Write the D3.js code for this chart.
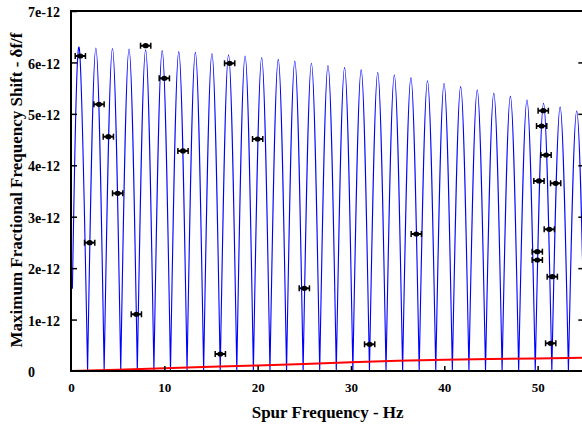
<!DOCTYPE html>
<html>
<head>
<meta charset="utf-8">
<script src="https://cdn.jsdelivr.net/npm/d3@7"></script>
<style>
  body { margin: 0; background: #fff; }
  svg { display: block; font-family: "Liberation Serif", "Times New Roman", serif; font-weight: bold; }
</style>
</head>
<body>
<svg id="chart" width="582" height="425"></svg>
<script>
// zeros of the model curve (Hz)
var lobeZeros = [0, 1.777, 3.553, 5.330, 7.106, 8.883, 10.660, 12.436, 14.213, 15.989,
                 17.766, 19.543, 21.319, 23.096, 24.872, 26.649, 28.426, 30.202, 31.979, 33.755,
                 35.532, 37.309, 39.085, 40.862, 42.638, 44.415, 46.192, 47.968, 49.745, 51.521,
                 53.298, 55.075];
// lobe tops of the model curve
var peakFreqs = [0.888, 2.665, 4.442, 6.218, 7.995, 9.771, 11.548, 13.325, 15.101, 16.878,
                 18.654, 20.431, 22.208, 23.984, 25.761, 27.537, 29.314, 31.091, 32.867, 34.644,
                 36.420, 38.197, 39.974, 41.750, 43.527, 45.303, 47.080, 48.857, 50.633, 52.410,
                 54.186];
var peakShifts = [6.28e-12, 6.28e-12, 6.27e-12, 6.26e-12, 6.245e-12, 6.23e-12, 6.21e-12, 6.195e-12,
                  6.175e-12, 6.15e-12, 6.125e-12, 6.095e-12, 6.06e-12, 6.025e-12, 5.985e-12, 5.94e-12,
                  5.9e-12, 5.855e-12, 5.805e-12, 5.755e-12, 5.7e-12, 5.645e-12, 5.59e-12, 5.53e-12,
                  5.465e-12, 5.4e-12, 5.34e-12, 5.27e-12, 5.205e-12, 5.13e-12, 5.055e-12];
// curve is cut at the first sample
var curveStart = [0.15, 1.6e-12];

// red limit line
var limitFreqs = [0, 5, 10, 15, 20, 25, 30, 35, 40, 45, 50, 55];
var limitShifts = [0, 0.025e-12, 0.055e-12, 0.082e-12, 0.107e-12, 0.135e-12, 0.168e-12,
                   0.2e-12, 0.218e-12, 0.232e-12, 0.245e-12, 0.26e-12];

// measured points
var pointFreqs = [1, 2, 3, 4, 5, 7, 8, 10, 12, 16, 17, 20, 25, 32, 37,
                  49.96, 49.96, 50.14, 50.43, 50.6, 50.9, 51.25, 51.4, 51.57, 51.93];
var pointShifts = [6.125e-12, 2.495e-12, 5.186e-12, 4.556e-12, 3.455e-12, 1.103e-12, 6.325e-12,
                   5.691e-12, 4.28e-12, 0.331e-12, 5.983e-12, 4.511e-12, 1.608e-12, 0.519e-12,
                   2.664e-12, 2.32e-12, 2.158e-12, 3.695e-12, 4.764e-12, 5.061e-12, 4.2e-12,
                   2.755e-12, 0.539e-12, 1.834e-12, 3.65e-12];
var pointErr = 0.55;

var xTicks = [0, 10, 20, 30, 40, 50];
var yTicks = [0, 1e-12, 2e-12, 3e-12, 4e-12, 5e-12, 6e-12, 7e-12];

var mLeft = 71, mRight = 584.3, mTop = 11, mBottom = 371;

var svg = d3.select("#chart");

var x = d3.scaleLinear().domain([0, 55]).range([mLeft, mRight]);
var y = d3.scaleLinear().domain([0, 7e-12]).range([mBottom, mTop]);

svg.append("defs")
   .append("clipPath")
     .attr("id", "plot-clip")
   .append("rect")
     .attr("x", mLeft)
     .attr("y", mTop - 2)
     .attr("width", mRight - mLeft)
     .attr("height", mBottom - mTop + 2);

var plot = svg.append("g").attr("clip-path", "url(#plot-clip)");

// blue model curve, one arch per lobe
var arch = d3.line()
             .x(d => x(d[0]))
             .y(d => y(d[1]))
             .curve(d3.curveNatural);

var lobes = peakFreqs.map((p, i) => [
  i === 0 ? curveStart : [lobeZeros[i], 0],
  [p, peakShifts[i]],
  [lobeZeros[i + 1], 0]
]);

plot.append("path")
    .attr("d", lobes.map(l => arch(l)).join(""))
    .attr("fill", "none")
    .attr("stroke", "#0000ff")
    .attr("stroke-width", 1.1);

plot.append("path")
    .datum(limitFreqs.map((f, i) => [f, limitShifts[i]]))
    .attr("d", d3.line().x(d => x(d[0])).y(d => y(d[1])))
    .attr("fill", "none")
    .attr("stroke", "#ff0000")
    .attr("stroke-width", 2);

// error bars
var pts = svg.append("g")
             .selectAll(".pt")
             .data(pointFreqs.map((f, i) => ({f: f, v: pointShifts[i]})))
             .enter()
             .append("g")
             .classed("pt", true)
             .attr("transform", d => "translate(" + x(d.f) + "," + y(d.v) + ")");

pts.append("line")
   .attr("x1", d => x(d.f - pointErr) - x(d.f))
   .attr("x2", d => x(d.f + pointErr) - x(d.f))
   .attr("stroke", "#000")
   .attr("stroke-width", 2);

pts.selectAll(".cap")
   .data(d => [x(d.f - pointErr) - x(d.f), x(d.f + pointErr) - x(d.f)])
   .enter()
   .append("line")
     .attr("x1", d => d)
     .attr("x2", d => d)
     .attr("y1", -3)
     .attr("y2", 3)
     .attr("stroke", "#000")
     .attr("stroke-width", 1.5);

pts.append("ellipse")
   .attr("rx", 3)
   .attr("ry", 2.6)
   .attr("fill", "#000");

// axes
var xAxis = svg.append("g")
               .attr("transform", "translate(0," + mBottom + ")")
               .call(d3.axisBottom(x).tickValues(xTicks).tickSizeInner(-5).tickSizeOuter(0).tickPadding(12));

var yAxis = svg.append("g")
               .attr("transform", "translate(" + mLeft + ",0)")
               .call(d3.axisLeft(y).tickValues(yTicks)
                       .tickSizeInner(-6).tickSizeOuter(0)
                       .tickFormat(d => d === 0 ? "0" : d3.format("~e")(d)));

svg.append("g")
   .attr("transform", "translate(" + mRight + ",0)")
   .call(d3.axisRight(y).tickValues(yTicks.slice(1, -1)).tickSizeInner(-6).tickSizeOuter(0).tickFormat(""));

svg.selectAll(".domain").remove();
svg.selectAll(".tick line").attr("stroke", "#000").attr("stroke-width", 1.5);

xAxis.attr("font-family", null).attr("font-size", "13px");
xAxis.selectAll("text").attr("fill", "#000");

yAxis.attr("font-family", null).attr("font-size", "14px");
yAxis.selectAll("text")
     .attr("fill", "#000")
     .attr("text-anchor", "start")
     .attr("x", 28 - mLeft)
     .attr("dy", "0.4em");

svg.selectAll(".tick").filter(d => d === 0).select("line").remove();

// frame
svg.append("rect")
   .attr("x", mLeft)
   .attr("y", mTop)
   .attr("width", mRight - mLeft)
   .attr("height", mBottom - mTop)
   .attr("fill", "none")
   .attr("stroke", "#000")
   .attr("stroke-width", 2);

svg.append("text")
   .attr("x", (mLeft + mRight) / 2)
   .attr("y", 418)
   .attr("font-size", "17px")
   .style("text-anchor", "middle")
   .text("Spur Frequency - Hz");

svg.append("text")
   .attr("transform", "translate(22," + 190 + ") rotate(-90)")
   .attr("font-size", "17px")
   .style("text-anchor", "middle")
   .text("Maximum Fractional Frequency Shift - δf/f");
</script>
</body>
</html>
